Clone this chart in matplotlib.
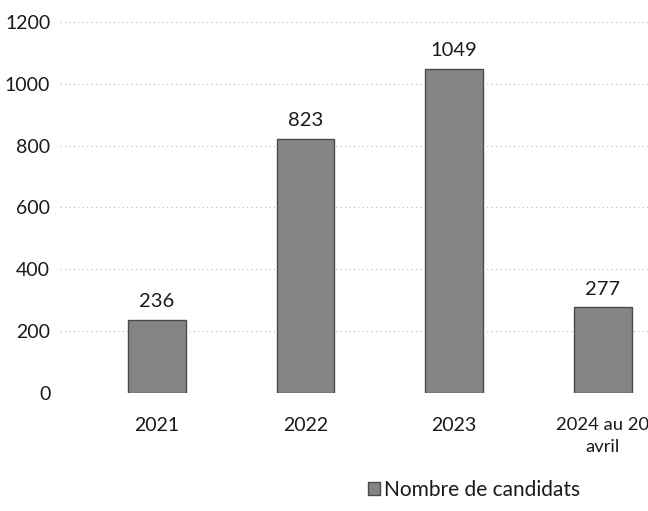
import matplotlib.pyplot as plt
import numpy as np

# data
categories = ['2021', '2022', '2023', '2024 au 20\navril']
candidats = [236, 823, 1049, 277]
yticks = [0, 200, 400, 600, 800, 1000, 1200]

plt.rcParams['font.family'] = ['Lato', 'DejaVu Sans']

fig = plt.figure(figsize=(6.48, 5.11), dpi=100)
ax = fig.add_axes([60 / 648, 118 / 511, 588 / 648, 371 / 511])

x = np.arange(len(categories))
bars = ax.bar(x, candidats, width=0.39, color='#858585', edgecolor='#4a4a4a',
              linewidth=1.0, label='Nombre de candidats', zorder=3)

# value labels above each bar
for b, v in zip(bars, candidats):
    ax.annotate(str(v), (b.get_x() + b.get_width() / 2, v), xytext=(0, 7),
                textcoords='offset points', ha='center', va='bottom',
                fontsize=14.5, color='#1a1a1a')

ax.set_xlim(-0.653, 3.306)
ax.set_ylim(0, 1200)
ax.set_yticks(yticks)
ax.set_xticks(x)
ax.set_xticklabels(categories, linespacing=1.5)
ax.tick_params(axis='both', length=0, labelsize=14, labelcolor='#1a1a1a')
ax.tick_params(axis='y', pad=7)
ax.tick_params(axis='x', pad=17)
# last label is long, keep it inside the right edge
ax.get_xticklabels()[-1].set_fontsize(13.2)
ax.grid(axis='y', linestyle=(0, (1, 3)), color='#b5b5b5', linewidth=0.8, zorder=0)
for s in ax.spines.values():
    s.set_visible(False)

fig.legend(handles=[bars], labels=['Nombre de candidats'], loc='center',
           bbox_to_anchor=(474 / 648, 1 - 490 / 511), frameon=False,
           fontsize=15, handlelength=0.6, handleheight=0.6, handletextpad=0.2,
           labelcolor='#1a1a1a')

fig.savefig('out.png', dpi=100)
